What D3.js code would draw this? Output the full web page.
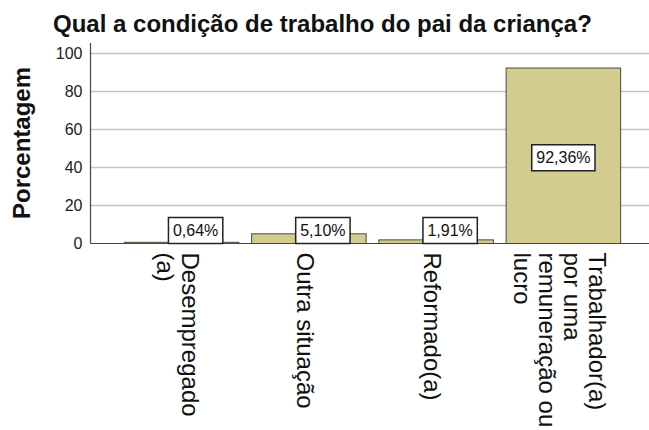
<!DOCTYPE html>
<html>
<head>
<meta charset="utf-8">
<script src="https://cdn.jsdelivr.net/npm/d3@7"></script>
<style>
  html, body { margin: 0; padding: 0; background: #fff; }
  svg { display: block; font-family: "Liberation Sans", Arial, sans-serif; }
</style>
</head>
<body>
<svg id="chart" width="649" height="430"></svg>
<script>
// ---- data ----
const title = "Qual a condição de trabalho do pai da criança?";
const yLabel = "Porcentagem";
const categories = ["Desempregado (a)", "Outra situação", "Reformado(a)", "Trabalhador(a) por uma remuneração ou lucro"];
const categoryLines = [
  ["Desempregado", "(a)"],
  ["Outra situação"],
  ["Reformado(a)"],
  ["Trabalhador(a)", "por uma", "remuneração ou", "lucro"]
];
const values = [0.64, 5.10, 1.91, 92.36];
const yTicks = [0, 20, 40, 60, 80, 100];

// ---- layout ----
const svg = d3.select("#chart");
const plotLeft = 90.5, plotRight = 649, plotTop = 43;
const y = d3.scaleLinear().domain([0, 100]).range([243.5, 53.5]);
const x = d3.scaleBand().domain(categories).range([118, 627]).paddingInner(0.1).paddingOuter(0.05);

const locale = d3.formatLocale({decimal: ",", thousands: ".", grouping: [3], currency: ["", ""]});
const fmt = locale.format(".2f");

// title
svg.append("text")
  .attr("x", 53).attr("y", 32)
  .attr("font-size", 24).attr("font-weight", "bold").attr("fill", "#111")
  .text(title);

// y label
svg.append("text")
  .attr("transform", "translate(30,143) rotate(-90)")
  .attr("text-anchor", "middle")
  .attr("font-size", 24).attr("font-weight", "bold").attr("fill", "#111")
  .text(yLabel);

// gridlines
svg.append("g").selectAll("line").data(yTicks.filter(d => d > 0)).join("line")
  .attr("x1", plotLeft).attr("x2", plotRight)
  .attr("y1", d => y(d)).attr("y2", d => y(d))
  .attr("stroke", "#c4c4c4").attr("stroke-width", 1.5);

// y axis
const yAxis = d3.axisLeft(y).tickValues(yTicks).tickSize(0).tickPadding(8);
const gy = svg.append("g").attr("transform", `translate(${plotLeft},0)`).call(yAxis);
gy.select(".domain").remove();
gy.selectAll("text").attr("font-size", 16).attr("fill", "#222")
  .attr("font-family", "'Liberation Sans', Arial, sans-serif");
svg.append("line")
  .attr("x1", plotLeft).attr("x2", plotLeft).attr("y1", plotTop).attr("y2", y(0))
  .attr("stroke", "#444").attr("stroke-width", 1.2);

// bars
svg.append("g").selectAll("rect").data(values).join("rect")
  .attr("x", (d, i) => x(categories[i]))
  .attr("y", d => y(d))
  .attr("width", x.bandwidth())
  .attr("height", d => y(0) - y(d))
  .attr("fill", "#d2cc8e")
  .attr("stroke", "#4a4a40").attr("stroke-width", 1);

// baseline
svg.append("line")
  .attr("x1", plotLeft).attr("x2", plotRight).attr("y1", y(0)).attr("y2", y(0))
  .attr("stroke", "#444").attr("stroke-width", 1.2);

// value labels
const boxH = 26;
const gl = svg.append("g");
values.forEach((v, i) => {
  const cx = x(categories[i]) + x.bandwidth() / 2;
  let cy = y(v / 2) + 2;
  let bx = cx;
  if (cy + boxH / 2 > y(0)) { cy = y(0) - boxH / 2; bx = cx + 14; }
  const g = gl.append("g");
  const t = g.append("text")
    .attr("x", bx).attr("y", cy)
    .attr("text-anchor", "middle").attr("dominant-baseline", "central")
    .attr("font-size", 16).attr("fill", "#111")
    .text(fmt(v) + "%");
  const w = t.node().getComputedTextLength() + 9;
  g.insert("rect", "text")
    .attr("x", bx - w / 2).attr("y", cy - boxH / 2)
    .attr("width", w).attr("height", boxH)
    .attr("fill", "#fff").attr("stroke", "#222").attr("stroke-width", 1.5);
});

// category labels (rotated 90deg)
const gx = svg.append("g");
categoryLines.forEach((lines, i) => {
  const cx = x(categories[i]) + x.bandwidth() / 2;
  const n = lines.length;
  lines.forEach((line, j) => {
    const bx = cx + (n - 1) * 12.5 - 12 - j * 25;
    gx.append("text")
      .attr("transform", `translate(${bx},252.5) rotate(90)`)
      .attr("text-anchor", "start")
      .attr("font-size", 24).attr("fill", "#111")
      .text(line);
  });
});
</script>
</body>
</html>
